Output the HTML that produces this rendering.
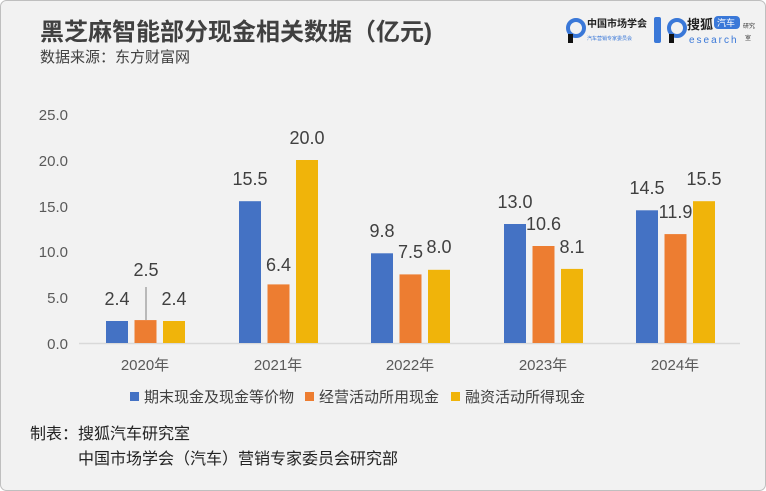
<!DOCTYPE html><html><head><meta charset="utf-8"><style>
html,body{margin:0;padding:0;background:#fff}
svg{display:block;font-family:"Liberation Sans","Noto Sans CJK SC",sans-serif}
</style></head><body>
<svg width="766" height="491" viewBox="0 0 766 491">
<rect x="0.5" y="0.5" width="765" height="490" rx="6" fill="#f2f2f2" stroke="#bfbfbf"/>
<text x="40" y="40" font-size="24" font-weight="bold" fill="#404040">黑芝麻智能部分现金相关数据（亿元)</text>
<text x="40" y="62" font-size="15" fill="#404040">数据来源：东方财富网</text>
<circle cx="576" cy="28" r="8" fill="none" stroke="#3a78d8" stroke-width="4"/><rect x="568" y="34" width="5" height="9" fill="#111"/>
<text x="587" y="27" font-size="10" font-weight="bold" fill="#222">中国市场学会</text>
<text x="587" y="40" font-size="5" fill="#3a78d8">汽车营销专家委员会</text>
<rect x="654" y="17" width="7" height="26" rx="2" fill="#3a78d8"/>
<circle cx="677" cy="28" r="8" fill="none" stroke="#3a78d8" stroke-width="4"/><rect x="669" y="34" width="5" height="9" fill="#111"/>
<text x="687" y="29" font-size="13" font-weight="bold" fill="#222">搜狐</text>
<rect x="714" y="16" width="26" height="13" rx="4" fill="#3a78d8"/><text x="717" y="26" font-size="9" fill="#fff">汽车</text>
<text x="689" y="43" font-size="10" fill="#3a78d8" letter-spacing="2">esearch</text>
<text x="743" y="28" font-size="6" fill="#333">研究</text><text x="745" y="40" font-size="6" fill="#333">室</text>
<g font-size="15" fill="#595959" text-anchor="end">
<text x="68" y="120">25.0</text><text x="68" y="166">20.0</text><text x="68" y="212">15.0</text>
<text x="68" y="257">10.0</text><text x="68" y="303">5.0</text><text x="68" y="349">0.0</text></g>
<line x1="79" y1="343.5" x2="740" y2="343.5" stroke="#d9d9d9" stroke-width="1.5"/>
<g font-size="15" fill="#595959" text-anchor="middle">
<text x="145" y="370">2020年</text><text x="278" y="370">2021年</text><text x="410" y="370">2022年</text><text x="543" y="370">2023年</text><text x="675" y="370">2024年</text></g>
<g>
<rect x="106" y="321" width="22" height="22" fill="#4472c4"/>
<rect x="134.5" y="320.1" width="22" height="22.9" fill="#ed7d31"/>
<rect x="163" y="321" width="22" height="22" fill="#f0b40a"/>
<rect x="239" y="201.2" width="22" height="141.8" fill="#4472c4"/>
<rect x="267.5" y="284.4" width="22" height="58.6" fill="#ed7d31"/>
<rect x="296" y="160" width="22" height="183" fill="#f0b40a"/>
<rect x="371" y="253.3" width="22" height="89.7" fill="#4472c4"/>
<rect x="399.5" y="274.4" width="22" height="68.6" fill="#ed7d31"/>
<rect x="428" y="269.8" width="22" height="73.2" fill="#f0b40a"/>
<rect x="504" y="224" width="22" height="119" fill="#4472c4"/>
<rect x="532.5" y="246" width="22" height="97" fill="#ed7d31"/>
<rect x="561" y="268.9" width="22" height="74.1" fill="#f0b40a"/>
<rect x="636" y="210.3" width="22" height="132.7" fill="#4472c4"/>
<rect x="664.5" y="234.1" width="22" height="108.9" fill="#ed7d31"/>
<rect x="693" y="201.2" width="22" height="141.8" fill="#f0b40a"/>
</g>
<line x1="146" y1="287" x2="146" y2="320" stroke="#a6a6a6" stroke-width="1.5"/>
<g font-size="18" fill="#404040" text-anchor="middle">
<text x="117" y="305">2.4</text><text x="146" y="276">2.5</text><text x="174" y="305">2.4</text>
<text x="250" y="185">15.5</text><text x="278.5" y="271">6.4</text><text x="307" y="144">20.0</text>
<text x="382" y="237">9.8</text><text x="410.5" y="258">7.5</text><text x="439" y="253">8.0</text>
<text x="515" y="208">13.0</text><text x="543.5" y="230">10.6</text><text x="572" y="253">8.1</text>
<text x="647" y="194">14.5</text><text x="675.5" y="218">11.9</text><text x="704" y="185">15.5</text>
</g>
<g font-size="15" fill="#404040">
<rect x="130" y="392" width="9" height="9" fill="#4472c4"/><text x="144" y="402">期末现金及现金等价物</text>
<rect x="305" y="392" width="9" height="9" fill="#ed7d31"/><text x="319" y="402">经营活动所用现金</text>
<rect x="451" y="392" width="9" height="9" fill="#f0b40a"/><text x="465" y="402">融资活动所得现金</text></g>
<g font-size="16" fill="#222">
<text x="30" y="439">制表：搜狐汽车研究室</text>
<text x="78" y="464">中国市场学会（汽车）营销专家委员会研究部</text></g>
</svg></body></html>
